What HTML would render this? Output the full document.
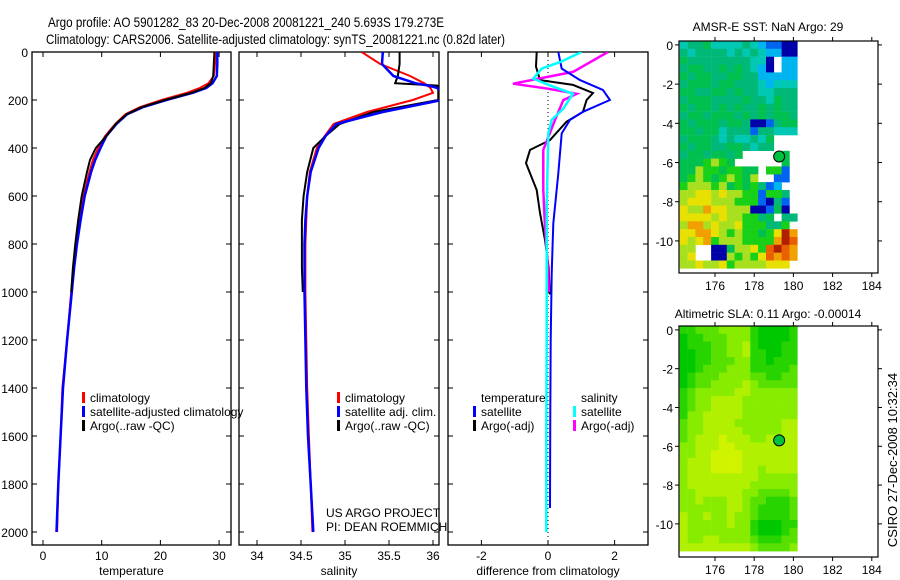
<!DOCTYPE html>
<html><head><meta charset="utf-8"><style>
html,body{margin:0;padding:0;background:#fff;}
svg{display:block;font-family:"Liberation Sans",sans-serif;}
</style></head><body>
<svg id="fig" width="900" height="580" viewBox="0 0 900 580" xmlns="http://www.w3.org/2000/svg">
<rect width="900" height="580" fill="#fff"/>
<text x="48" y="27" font-size="14" textLength="396" lengthAdjust="spacingAndGlyphs">Argo profile: AO 5901282_83 20-Dec-2008 20081221_240 5.693S 179.273E</text>
<text x="46" y="44" font-size="14" textLength="459" lengthAdjust="spacingAndGlyphs">Climatology: CARS2006. Satellite-adjusted climatology: synTS_20081221.nc (0.82d later)</text>
<g id="g"></g>
<text transform="translate(897,460) rotate(-90)" font-size="13" text-anchor="middle">CSIRO 27-Dec-2008 10:32:34</text>
</svg>
<script>
// ---------- profile data ----------
const tDepth   = [0,50,100,130,150,170,200,230,260,300,350,400,450,500,600,700,800,900,1000,1200,1400,1600,1800,2000];
const tClim    = [29.3,29.3,29.1,28.2,26.7,24.5,20.2,16.5,14.0,12.3,10.6,9.4,8.5,7.9,6.9,6.2,5.6,5.2,4.8,4.1,3.3,3.0,2.6,2.4];
const tSat     = [29.7,29.7,29.6,28.9,27.8,25.5,21.0,17.0,14.3,12.5,10.8,9.8,8.9,8.2,7.1,6.4,5.8,5.3,4.9,4.1,3.4,3.0,2.6,2.3];
const tArgo    = [29.2,29.1,29.0,28.6,27.5,25.3,20.8,16.8,14.2,12.4,10.8,9.0,8.0,7.5,6.6,6.0,5.5,5.1,4.8];
const sDepth   = [0,50,100,130,140,150,170,200,250,300,350,400,500,600,700,800,900,1000,1200,1400,1600,1800,2000];
const sClim    = [35.19,35.40,35.74,35.90,35.94,35.97,36.00,35.77,35.25,34.87,34.77,34.68,34.60,34.57,34.56,34.55,34.55,34.55,34.56,34.57,34.59,34.61,34.63];
const sSat     = [35.43,35.42,35.55,35.80,35.95,36.05,36.10,36.10,35.43,34.90,34.78,34.70,34.61,34.57,34.55,34.54,34.54,34.54,34.55,34.56,34.58,34.61,34.64];
const sArgo    = [35.62,35.62,35.60,35.57,36.05,36.06,36.06,36.06,35.32,34.94,34.78,34.64,34.57,34.53,34.51,34.51,34.51,34.52];
const dDepth1  = [0,61,117,137,171,200,249,290,367,408,463,575,671,783,900,1010];
const dTArgo   = [-0.34,-0.36,-0.24,0.75,1.35,1.16,1.05,0.56,0.06,-0.54,-0.66,-0.34,-0.24,-0.09,0.02,0.05];
const dDepth2  = [0,69,117,158,200,249,283,339,506,714,922,1200,1500,1900];
const dTSat    = [0.31,0.41,0.96,1.65,1.86,1.05,0.66,0.41,0.31,0.16,0.11,0.08,0.07,0.06];
const dDepth3  = [0,83,132,153,174,201,283,408,575,728,922,1000];
const dSArgo   = [1.8,0.75,-1.05,0.0,0.86,0.46,0.21,-0.14,-0.14,-0.09,0.01,0.02];
const dDepth4  = [0,42,69,111,139,174,236,283,339,645,1180,1600,2000];
const dSSat    = [1.01,0.36,-0.19,-0.44,0.06,0.75,0.46,0.11,0.01,-0.04,-0.04,-0.05,-0.05];
const depthTicks = [0,200,400,600,800,1000,1200,1400,1600,1800,2000];
const tTicks = [0,10,20,30];
const sTicks = [34,34.5,35,35.5,36];
const dTicks = [-2,0,2];
// ---------- map data (0.4 deg cells, lon 174.2.., lat 0.2 downward; '.' = no data) ----------
const sstRows = [
"344533334321100","434444343432200","544444444330.22","455445454320.22","545544554422222",
"455545544432333","554455454433444","455544445443544","545545454454544","455455545454554",
"545554554001455","554553444144333","455543433435...","545544554344...","45545545.....5.",
"5556765......5.","5576656655.661.","5676567657..11.","6777675656412..","77887877661664.",
"78887776661041.","87798877700150.","888878776645.44","79978778666446.","8899876766568R9",
"8789677766669Ra","77..0057786aRa9","78..0076768a9a9","77877867777888."];
const slaRows = [
"112223333100001","011222333100001","011122334100011","001122334110011","001122233110111",
"001222333111112","012223333221122","012233334322222","123333344333333","123344443333333",
"123344443333333","133444443333333","233444433333344","233444443333344","234445444334444",
"334445544444444","334455554444444","344455554444444","344455554434444","344444444433333",
"344444444333333","334444443322223","334333443221112","333333443211112","433433433211112",
"433333433100011","433333333100012","433443333211122","444444444322223"];
const argoLon = 179.273, argoLat = -5.693;
// ---------- helpers ----------
const NS="http://www.w3.org/2000/svg";
const G=document.getElementById('g');
function el(t,a,p){const e=document.createElementNS(NS,t);for(const k in a)e.setAttribute(k,a[k]);(p||G).appendChild(e);return e;}
function txt(x,y,s,size,anchor,p){const e=el('text',{x:x,y:y,'font-size':size,'text-anchor':anchor||'start'},p);e.textContent=s;return e;}
const Y0=52, PY=0.24, PB=545;
const yD=d=>Y0+d*PY;
const xT=v=>43+v*5.87;
const xS=v=>257+(v-34)*88;
const xDf=v=>548+v*33.3;
function panel(name,x0,x1,xf,ticks,lab,labels){
  const g=el('g',{});
  
  
  el('rect',{x:x0,y:Y0,width:x1-x0,height:PB-Y0,fill:'none',stroke:'#000','stroke-width':1.3},g);
  depthTicks.forEach(d=>{const y=yD(d);
    el('line',{x1:x0,x2:x0+5,y1:y,y2:y,stroke:'#000'},g);
    el('line',{x1:x1-5,x2:x1,y1:y,y2:y,stroke:'#000'},g);});
  ticks.forEach(v=>{const x=xf(v);
    el('line',{x1:x,x2:x,y1:PB-5,y2:PB,stroke:'#000'},g);
    el('line',{x1:x,x2:x,y1:Y0,y2:Y0+5,stroke:'#000'},g);
    const t=txt(x,PB+15,String(v),12,'middle',g);
    
    });
  const l=txt((x0+x1)/2,PB+30,lab,12,'middle',g);
  
  
  if(labels){depthTicks.forEach(d=>{const t=txt(x0-4,yD(d)+5,String(d),12,'end',g);
    
    });}
  return g;
}
function line(g,depths,vals,xf,color,w,name,dash){
  const pts=vals.map((v,i)=>xf(v).toFixed(1)+','+yD(depths[i]).toFixed(1)).join(' ');
  const p=el('polyline',{points:pts,fill:'none',stroke:color,'stroke-width':w},g);
  if(dash)p.setAttribute('stroke-dasharray',dash);
  
  
}
function clip(id,x0,x1){const d=el('clipPath',{id:id});el('rect',{x:x0,y:Y0,width:x1-x0,height:PB-Y0},d);}
clip('c1',32,231);clip('c2',239,439);clip('c3',448,648);
function legItem(g,x,y,color,s,name){
  el('rect',{x:x,y:y-10,width:3,height:11,fill:color},g);
  const t=txt(x+8,y,s,12,'start',g);
  
  
}
// temperature panel
const p1=panel('temperature-panel',32,231,xT,tTicks,'temperature',true);
const l1=el('g',{'clip-path':'url(#c1)'},p1);
line(l1,tDepth,tClim,xT,'#f00',2,'temp-climatology-line');
line(l1,tDepth,tSat,xT,'#00f',2.5,'temp-satellite-line');
line(l1,tDepth.slice(0,tArgo.length),tArgo,xT,'#000',2,'temp-argo-line');
legItem(p1,82,402,'#f00','climatology','legend-climatology');
legItem(p1,82,416,'#00f','satellite-adjusted climatology','legend-satellite');
legItem(p1,82,430,'#000','Argo(..raw -QC)','legend-argo');
// salinity panel
const p2=panel('salinity-panel',239,439,xS,sTicks,'salinity',false);
const l2=el('g',{'clip-path':'url(#c2)'},p2);
line(l2,sDepth,sClim,xS,'#f00',2,'sal-climatology-line');
line(l2,sDepth.slice(0,sArgo.length),sArgo,xS,'#000',2,'sal-argo-line');
line(l2,sDepth,sSat,xS,'#00f',2.5,'sal-satellite-line');
legItem(p2,337,402,'#f00','climatology','legend-climatology');
legItem(p2,337,416,'#00f','satellite adj. clim.','legend-satellite');
legItem(p2,337,430,'#000','Argo(..raw -QC)','legend-argo');
const c1=txt(326,517,'US ARGO PROJECT',12,'start',p2);


const c2=txt(326,531,'PI: DEAN ROEMMICH',12,'start',p2);


// difference panel
const p3=panel('difference-panel',448,648,xDf,dTicks,'difference from climatology',false);
el('line',{x1:548,x2:548,y1:Y0,y2:PB,stroke:'#000','stroke-dasharray':'1,3'},p3);
const l3=el('g',{'clip-path':'url(#c3)'},p3);
line(l3,dDepth1,dTArgo,xDf,'#000',2,'diff-temp-argo-line');
line(l3,dDepth3,dSArgo,xDf,'#f0f',2.5,'diff-sal-argo-line');
line(l3,dDepth2,dTSat,xDf,'#00f',2,'diff-temp-satellite-line');
line(l3,dDepth4,dSSat,xDf,'#0ff',2.5,'diff-sal-satellite-line');
const lt=txt(481,402,'temperature',12,'start',p3);


const ls=txt(581,402,'salinity',12,'start',p3);


legItem(p3,473,416,'#00f','satellite','legend-temp-satellite');
legItem(p3,473,430,'#000','Argo(-adj)','legend-temp-argo');
legItem(p3,573,416,'#0ff','satellite','legend-sal-satellite');
legItem(p3,573,430,'#f0f','Argo(-adj)','legend-sal-argo');
// ---------- maps ----------
const sstPal={'0':'#0000a8','1':'#0064f0','2':'#00b4f0','3':'#00c8b4','4':'#00b878','5':'#00c050','6':'#18d018','7':'#a8e020','8':'#e8e000','9':'#f0a000','a':'#e86000','R':'#b02000'};
const slaPal={'0':'#00c800','1':'#28d400','2':'#58e000','3':'#88ec00','4':'#b0f000','5':'#d0f400'};
const lonTicks=[176,178,180,182,184], latTicks=[0,-2,-4,-6,-8,-10];
function map(name,top,bot,latTop,latScale,rows,pal,title,titleY){
  const g=el('g',{});
  
  
  const L=679,R=878, xL=v=>715+(v-176)*19.6, yL=v=>top+(latTop-v)*latScale;
  rows.forEach((row,r)=>{[...row].forEach((ch,c)=>{
    if(ch==='.')return;
    const lon=174.2+c*0.4, lat=0.2-r*0.4;
    const x=xL(lon), y=yL(lat), y2=Math.min(yL(lat-0.4),bot);
    const cell=el('rect',{x:x.toFixed(1),y:y.toFixed(1),width:(xL(lon+0.4)-x+0.3).toFixed(1),height:(y2-y+0.3).toFixed(1),fill:pal[ch]},g);
    
    
  });});
  el('rect',{x:L,y:top,width:R-L,height:bot-top,fill:'none',stroke:'#000','stroke-width':1.2},g);
  latTicks.forEach(v=>{const y=yL(v);
    el('line',{x1:L-4,x2:L,y1:y,y2:y,stroke:'#000'},g);
    el('line',{x1:R,x2:R+4,y1:y,y2:y,stroke:'#000'},g);
    const t=txt(L-6,y+5,String(v),12,'end',g);
    
    });
  lonTicks.forEach(v=>{const x=xL(v);
    el('line',{x1:x,x2:x,y1:bot,y2:bot+4,stroke:'#000'},g);
    el('line',{x1:x,x2:x,y1:top-4,y2:top,stroke:'#000'},g);
    const t=txt(x,bot+17,String(v),12,'middle',g);
    
    });
  const c=el('circle',{cx:xL(argoLon),cy:yL(argoLat),r:5.5,fill:'#00c040',stroke:'#000','stroke-width':1},g);
  
  
  const t=txt(768,titleY,title,12,'middle',g);
  
  
}
map('sst-map',41,273,0.2,19.6,sstRows,sstPal,'AMSR-E SST: NaN Argo: 29',31);
map('sla-map',326,557,0.2,19.4,slaRows,slaPal,'Altimetric SLA: 0.11 Argo: -0.00014',318);
</script>
</body></html>
